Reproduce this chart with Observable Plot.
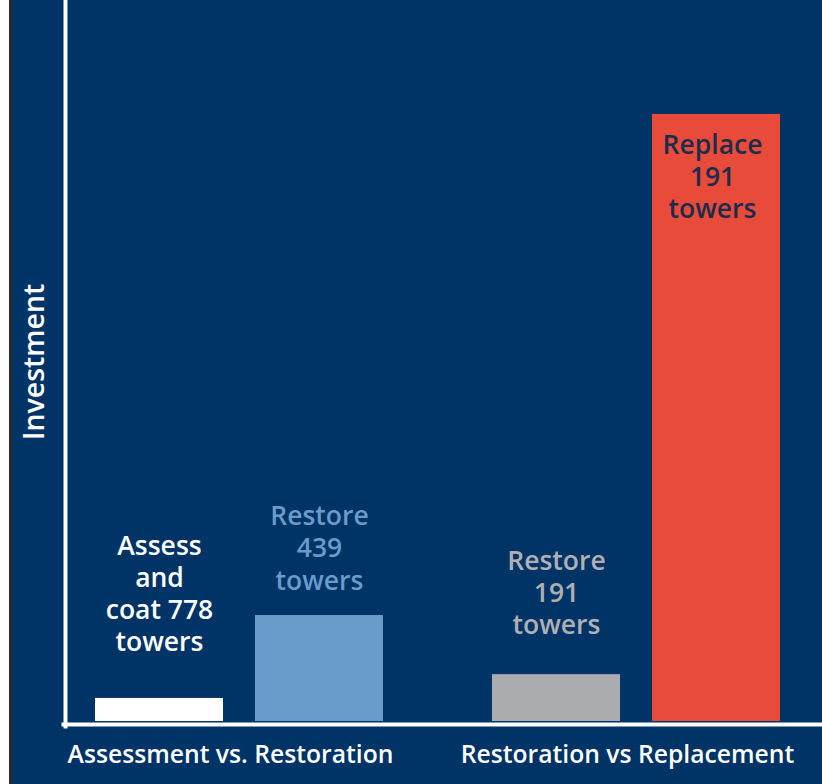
<!DOCTYPE html>
<html>
<head>
<meta charset="utf-8">
<script src="https://cdn.jsdelivr.net/npm/d3@7"></script>
<script src="https://cdn.jsdelivr.net/npm/@observablehq/plot@0.6"></script>
<style>
  html, body { margin: 0; padding: 0; background: #ffffff; }
  #chart svg { display: block; }
</style>
</head>
<body>
<div id="chart"></div>
<script>
// ---- data ----
const comparisons = ["Assessment vs. Restoration", "Assessment vs. Restoration", "Restoration vs Replacement", "Restoration vs Replacement"];
const options = ["Option 1", "Option 2", "Option 1", "Option 2"];
const actions = ["Assess and coat", "Restore", "Restore", "Replace"];
const towers = [778, 439, 191, 191];
const labels = ["Assess\nand\ncoat 778\ntowers", "Restore\n439\ntowers", "Restore\n191\ntowers", "Replace\n191\ntowers"];
const investment = [3.2, 14.7, 6.5, 84.2]; // relative investment (no scale shown)
const yLabel = "Investment";

// ---- styles ----
const navy = "#003366";
const barColors = ["#ffffff", "#699bcb", "#abacb0", "#e84b39"];
const labelColors = ["#ffffff", "#699bcb", "#afb0b3", "#1b2d4d"];
const font = "'Open Sans', 'Noto Sans', sans-serif";

const rows = labels.map((label, i) => ({
  comparison: comparisons[i], option: options[i], action: actions[i],
  towers: towers[i], label, value: investment[i], key: label
}));

const labelMark = (i, extra) => Plot.text([rows[i]], {
  fx: "comparison", x: "option", y: "value", text: "label",
  fill: labelColors[i], fontSize: 26.5, fontWeight: 600, lineHeight: 1.21,
  textAnchor: "middle", ...extra
});

const chart = Plot.plot({
  width: 822,
  height: 784,
  marginLeft: 65,
  marginRight: 0,
  marginTop: 0,
  marginBottom: 63,
  style: {
    background: `linear-gradient(to right, #ffffff 0 9px, #2a2a2e 9px 12px, ${navy} 12px)`,
    color: "#ffffff",
    fontFamily: font,
    fontWeight: 600
  },
  fx: {
    domain: [...new Set(comparisons)],
    paddingInner: 0.0932, paddingOuter: 0,
    label: null, axis: null
  },
  x: {
    domain: ["Option 1", "Option 2"],
    paddingInner: 0.2, paddingOuter: 0.225, align: 0.4167,
    axis: null
  },
  y: { domain: [0, 100], axis: null },
  color: { domain: labels, range: barColors },
  marks: [
    Plot.barY(rows, { fx: "comparison", x: "option", y: "value", fill: "key" }),
    labelMark(0, { lineAnchor: "bottom", dy: -47 }),
    labelMark(1, { lineAnchor: "bottom", dy: -26 }),
    labelMark(2, { lineAnchor: "bottom", dy: -41 }),
    labelMark(3, { lineAnchor: "top", dy: 17, dx: -4 }),
    Plot.axisFx({ anchor: "bottom", tickSize: 0, tickPadding: 24, fontSize: 24.7, fontWeight: 600, dx: -15, label: null, fill: "#ffffff" }),
    Plot.frame({ facet: "super", anchor: "left", stroke: "#ffffff", strokeWidth: 4, insetBottom: -5 }),
    Plot.frame({ facet: "super", anchor: "bottom", stroke: "#ffffff", strokeWidth: 4, insetBottom: -3, insetLeft: -2 }),
    Plot.text([yLabel], { facet: "super", frameAnchor: "left", text: d => d, rotate: -90, dx: -31, dy: 1, fill: "#ffffff", fontSize: 28.5, fontWeight: 600, textAnchor: "middle" })
  ]
});

document.getElementById("chart").appendChild(chart);
</script>
</body>
</html>
